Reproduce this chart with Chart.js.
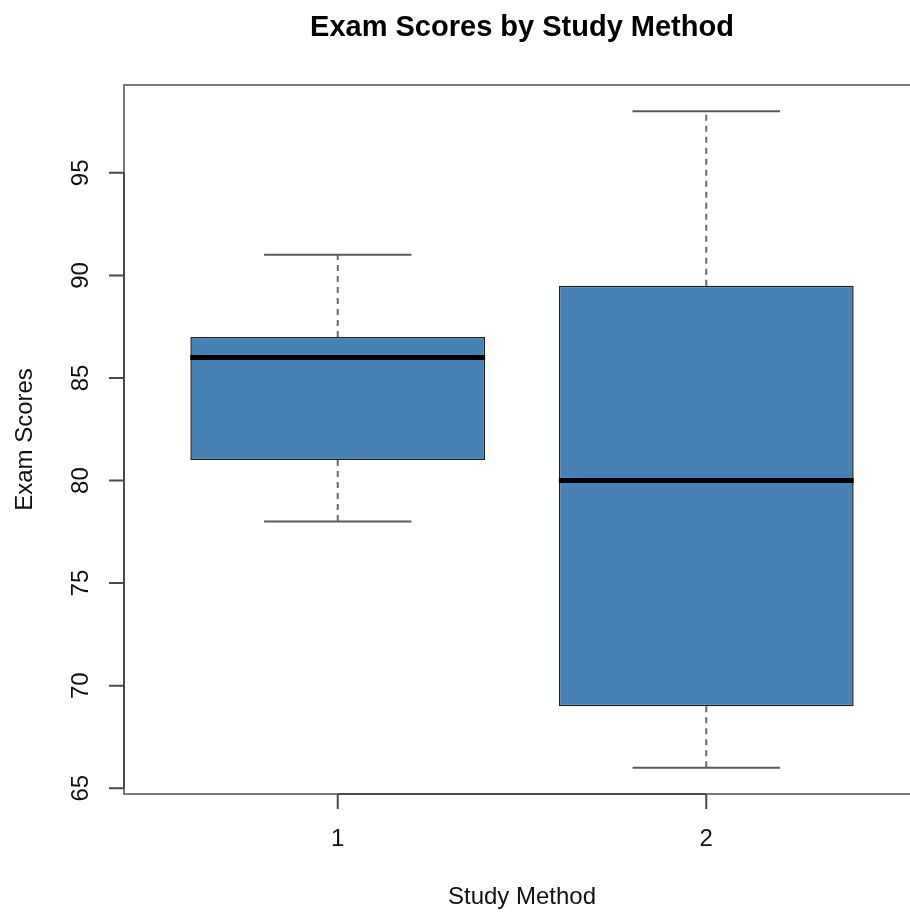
<!DOCTYPE html>
<html>
<head>
<meta charset="utf-8">
<title>Exam Scores by Study Method</title>
<script src="https://cdn.jsdelivr.net/npm/chart.js@4.4.1/dist/chart.umd.min.js"></script>
<style>
  html, body { margin: 0; padding: 0; overflow: hidden; background: #fff; }
  canvas { display: block; }
</style>
</head>
<body>
<canvas id="myChart" width="930" height="912"></canvas>
<script>
// Box statistics
const METHODS = ['1', '2'];
const WHISKER_LOW = [78, 66];
const Q1 = [81, 69];
const MEDIAN = [86, 80];
const Q3 = [87, 89.5];
const WHISKER_HIGH = [91, 98];
const Y_TICKS = [65, 70, 75, 80, 85, 90, 95];

const TITLE = 'Exam Scores by Study Method';
const X_TITLE = 'Study Method';
const Y_TITLE = 'Exam Scores';

const FONT = '"Liberation Sans", Arial, Helvetica, sans-serif';
const BOX_FILL = '#4682B4';
const BOX_HALF = 0.4; // half box width in x units
const CAP_HALF = 0.2; // half staple width

// positions 1..n, axis ranges padded by 4% like R does
const POS = METHODS.map((m, i) => i + 1);
const Y_LO = Math.min(...WHISKER_LOW);
const Y_HI = Math.max(...WHISKER_HIGH);
const Y_PAD = (Y_HI - Y_LO) * 0.04;
const X_PAD = METHODS.length * 0.04;

function segment(x0, y0, x1, y1, style, order) {
  return {
    type: 'line',
    data: [{ x: x0, y: y0 }, { x: x1, y: y1 }],
    pointRadius: 0,
    fill: false,
    tension: 0,
    order: order,
    ...style
  };
}

const WHISKER_STYLE = { borderColor: '#6a6a6a', borderWidth: 2, borderDash: [6, 5] };
const CAP_STYLE = { borderColor: '#5a5a5a', borderWidth: 2 };
const MEDIAN_STYLE = { borderColor: '#000', borderWidth: 5 };

const LINE_SETS = [];
POS.forEach((x, i) => {
  LINE_SETS.push(segment(x, Q3[i], x, WHISKER_HIGH[i], WHISKER_STYLE, 2));
  LINE_SETS.push(segment(x, Q1[i], x, WHISKER_LOW[i], WHISKER_STYLE, 2));
  LINE_SETS.push(segment(x - CAP_HALF, WHISKER_HIGH[i], x + CAP_HALF, WHISKER_HIGH[i], CAP_STYLE, 1));
  LINE_SETS.push(segment(x - CAP_HALF, WHISKER_LOW[i], x + CAP_HALF, WHISKER_LOW[i], CAP_STYLE, 1));
  LINE_SETS.push(segment(x - BOX_HALF, MEDIAN[i], x + BOX_HALF, MEDIAN[i], MEDIAN_STYLE, 0));
});

// R-style frame, axes and text
const R_AXES = {
  id: 'rAxes',
  afterDraw(chart) {
    const { ctx, chartArea: a, scales: { x, y } } = chart;
    ctx.save();

    // frame around plot region
    ctx.strokeStyle = '#7a7a7a';
    ctx.lineWidth = 2;
    ctx.strokeRect(a.left, a.top, a.right - a.left, a.bottom - a.top);

    // axis lines and tick marks
    ctx.strokeStyle = '#4a4a4a';
    ctx.beginPath();
    ctx.moveTo(a.left, y.getPixelForValue(Y_TICKS[0]));
    ctx.lineTo(a.left, y.getPixelForValue(Y_TICKS[Y_TICKS.length - 1]));
    Y_TICKS.forEach(v => {
      const py = y.getPixelForValue(v);
      ctx.moveTo(a.left - 15, py);
      ctx.lineTo(a.left, py);
    });
    ctx.moveTo(x.getPixelForValue(POS[0]), a.bottom);
    ctx.lineTo(x.getPixelForValue(POS[POS.length - 1]), a.bottom);
    POS.forEach(v => {
      const px = x.getPixelForValue(v);
      ctx.moveTo(px, a.bottom);
      ctx.lineTo(px, a.bottom + 15);
    });
    ctx.stroke();

    ctx.fillStyle = '#111';
    ctx.font = `24px ${FONT}`;
    ctx.textAlign = 'center';
    ctx.textBaseline = 'alphabetic';

    // x tick labels
    POS.forEach((v, i) => {
      ctx.fillText(METHODS[i], x.getPixelForValue(v), a.bottom + 52);
    });

    // y tick labels, rotated like R (las = 0)
    Y_TICKS.forEach(v => {
      ctx.save();
      ctx.translate(a.left - 36, y.getPixelForValue(v));
      ctx.rotate(-Math.PI / 2);
      ctx.fillText(String(v), 0, 0);
      ctx.restore();
    });

    const midX = (a.left + a.right) / 2;
    const midY = (a.top + a.bottom) / 2;

    // axis titles
    ctx.fillText(X_TITLE, midX, a.bottom + 110);
    ctx.save();
    ctx.translate(32, midY);
    ctx.rotate(-Math.PI / 2);
    ctx.fillText(Y_TITLE, 0, 0);
    ctx.restore();

    // main title
    ctx.fillStyle = '#000';
    ctx.font = `bold 29px ${FONT}`;
    ctx.fillText(TITLE, midX, 36);

    ctx.restore();
  }
};

const CONFIG = {
  type: 'bar',
  data: {
    datasets: [
      {
        type: 'bar',
        data: POS.map((x, i) => ({ x: x, y: [Q1[i], Q3[i]] })),
        backgroundColor: BOX_FILL,
        borderColor: '#1e1e1e',
        borderWidth: 1.5,
        borderSkipped: false,
        categoryPercentage: 1,
        barPercentage: BOX_HALF * 2,
        order: 3
      },
      ...LINE_SETS
    ]
  },
  options: {
    responsive: false,
    animation: false,
    layout: {
      padding: { left: 124, top: 85, right: 10, bottom: 118 }
    },
    plugins: {
      legend: { display: false },
      tooltip: { enabled: false },
      title: { display: false }
    },
    scales: {
      x: {
        type: 'linear',
        display: false,
        offset: false,
        min: 0.5 - X_PAD,
        max: METHODS.length + 0.5 + X_PAD,
        // only the box positions count as ticks (keeps bar width at 0.8 units)
        afterBuildTicks: scale => { scale.ticks = POS.map(v => ({ value: v })); }
      },
      y: {
        type: 'linear',
        display: false,
        beginAtZero: false,
        min: Y_LO - Y_PAD,
        max: Y_HI + Y_PAD
      }
    }
  },
  plugins: [R_AXES]
};

const MY_CHART = new Chart(document.getElementById('myChart'), CONFIG);
</script>
</body>
</html>
